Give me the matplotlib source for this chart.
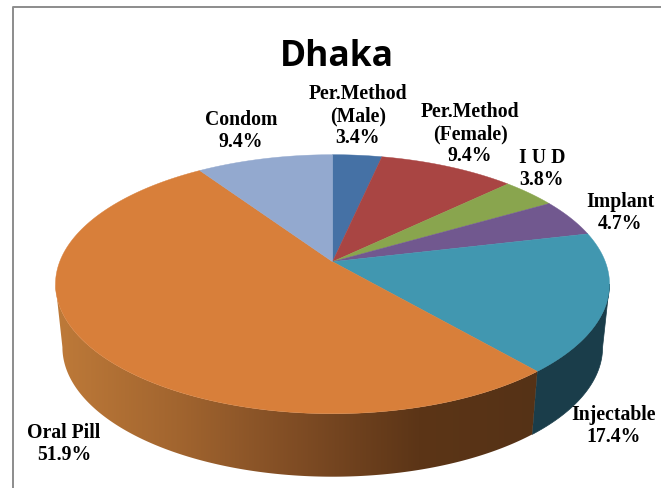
"""
Dhaka contraceptive method mix, drawn as a tilted 3D pie
"""

import numpy as np
import matplotlib
matplotlib.use("Agg")
import matplotlib.pyplot as plt
from matplotlib.patches import Polygon

# Chart data, clockwise from 12 o'clock
methods = ["Per.Method\n(Male)", "Per.Method\n(Female)", "I U D", "Implant",
           "Injectable", "Oral Pill", "Condom"]
shares = [3.4, 9.4, 3.8, 4.7, 17.4, 51.9, 9.4]
top_colors = ["#4571A5", "#A94543", "#89A54E", "#71588F", "#4197B0", "#D87F3A", "#93A9CF"]
wall_colors = ["#223A55", "#552220", "#445227", "#382C47", "#1A3D4A", None, "#4A5567"]
label_x = [358, 470, 542, 620, 614, 64, 241]
label_y = [116, 134, 169, 213, 426, 444, 131]

W, H = 661, 489
APEX_X, APEX_Y = 332.5, 262.7
K = 0.1737      # perspective strength of the tilt
FX, FY = 272.8, 125.6
WALL_SX, WALL_DY = 0.975, 63
# rim positions where the wall starts and stops being visible
WALL_START = np.arccos(-K) / (2 * np.pi)
WALL_END = 1 - WALL_START


def project(frac):
    """Fraction of the pie (clockwise from top) -> pixel position on the top rim"""
    a = np.asarray(frac) * 2 * np.pi
    nx, ny = np.sin(a), np.cos(a)
    d = 1 + K * ny
    return APEX_X + FX * nx / d, APEX_Y - FY * ny / d


def drop(x, y):
    """Top rim position -> matching position on the lower edge of the wall"""
    return APEX_X + (x - APEX_X) * WALL_SX, y + WALL_DY


fig = plt.figure(figsize=(W / 100, H / 100), dpi=100)
ax = fig.add_axes([0, 0, 1, 1])
ax.set_xlim(0, W)
ax.set_ylim(H, 0)
ax.axis("off")

# chart frame, cropped so only the top and left sides are in the picture
ax.plot([12.5, 12.5, W], [H, 7.5, 7.5], color="#8C8C8C", lw=1.4, zorder=1)

edges = np.cumsum([0] + shares) / sum(shares)

# side wall, only the slices facing the viewer show it
for i in range(len(shares)):
    lo, hi = max(edges[i], WALL_START), min(edges[i + 1], WALL_END)
    if hi <= lo:
        continue
    x, y = project(np.linspace(lo, hi, 200))
    bx, by = drop(x, y)
    pts = np.r_[np.c_[x, y], np.c_[bx, by][::-1]]
    if wall_colors[i] is not None:
        ax.add_patch(Polygon(pts, closed=True, fc=wall_colors[i], ec=wall_colors[i], lw=0.5, zorder=2))
    else:
        # oral pill wall fades from light on the left to dark on the right
        poly = Polygon(pts, closed=True, fc="none", ec="none", zorder=2)
        ax.add_patch(poly)
        ramp = np.linspace(0, 1, 256).reshape(1, -1)
        cmap = matplotlib.colors.LinearSegmentedColormap.from_list(
            "wall", ["#BE7A39", "#A2652F", "#7F4C24", "#5C3517", "#553216"])
        im = ax.imshow(ramp, cmap=cmap, extent=(55, 540, H, 0), aspect="auto", zorder=2)
        im.set_clip_path(poly)
        ax.set_xlim(0, W)
        ax.set_ylim(H, 0)

# top face
for i in range(len(shares)):
    x, y = project(np.linspace(edges[i], edges[i + 1], 200))
    pts = np.r_[[[APEX_X, APEX_Y]], np.c_[x, y]]
    ax.add_patch(Polygon(pts, closed=True, fc=top_colors[i], ec=top_colors[i], lw=0.3, zorder=3))

ax.text(337, 57, "Dhaka", ha="center", va="center", fontsize=25.5, fontweight="bold",
        family="Open Sans", color="black", zorder=5)

for name, share, lx, ly in zip(methods, shares, label_x, label_y):
    ax.text(lx, ly, f"{name}\n{share}%", ha="center", va="center", fontsize=14.2,
            fontweight="bold", family="Liberation Serif", linespacing=1.14, color="black", zorder=5)

fig.savefig("out.png", dpi=100)
